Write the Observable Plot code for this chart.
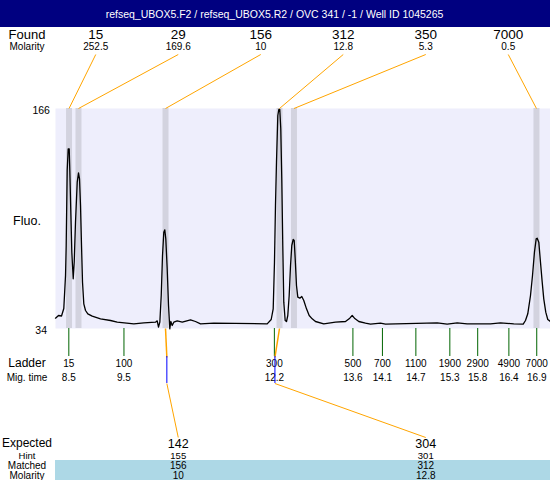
<!DOCTYPE html>
<html><head><meta charset="utf-8">
<script src="https://cdn.jsdelivr.net/npm/d3@7"></script>
<script src="https://cdn.jsdelivr.net/npm/@observablehq/plot@0.6"></script>
<style>body{margin:0;background:#fff}</style>
</head><body><div id="chart"></div>
<script>
// ---------- data ----------
const title = "refseq_UBOX5.F2 / refseq_UBOX5.R2 / OVC 341 / -1 / Well ID 1045265";
const fluoRange = [34, 166];
const foundSize = [15, 29, 156, 312, 350, 7000];
const foundMolarity = ["252.5", "169.6", "10", "12.8", "5.3", "0.5"];
const foundTime = [8.504, 8.674, 10.236, 12.282, 12.542, 16.895];
const ladderSize = [15, 100, 300, 500, 700, 1100, 1900, 2900, 4900, 7000];
const ladderTime = [8.50, 9.49, 12.19, 13.60, 14.13, 14.73, 15.34, 15.84, 16.40, 16.90];
const expectedSize = [142, 304];
const expectedHint = [155, 301];
const matchedSize = [156, 312];
const matchedMolarity = ["10", "12.8"];
const matchedFoundIndex = [2, 3];
const matchedTime = [10.26, 12.2];
const traceTime = [8.261, 8.315, 8.369, 8.410, 8.441, 8.453, 8.471, 8.489, 8.507, 8.518,
  8.536, 8.554, 8.579, 8.597, 8.620, 8.651, 8.674, 8.692, 8.710, 8.728,
  8.746, 8.769, 8.800, 8.841, 8.920, 9.069, 9.249, 9.369, 9.667, 9.846,
  10.056, 10.087, 10.110, 10.134, 10.159, 10.182, 10.205, 10.223, 10.241, 10.266,
  10.290, 10.313, 10.331, 10.356, 10.385, 10.446, 10.536, 10.685, 10.774, 10.864,
  11.103, 12.061, 12.133, 12.169, 12.192, 12.210, 12.228, 12.252, 12.270, 12.287,
  12.305, 12.323, 12.341, 12.359, 12.384, 12.408, 12.431, 12.456, 12.480, 12.503,
  12.528, 12.546, 12.564, 12.587, 12.611, 12.647, 12.682, 12.718, 12.767, 12.815,
  12.869, 12.928, 13.077, 13.287, 13.467, 13.544, 13.587, 13.628, 13.706, 13.826,
  13.915, 14.095, 14.185, 15.113, 15.292, 15.472, 15.651, 16.070, 16.249, 16.488,
  16.657, 16.698, 16.739, 16.788, 16.824, 16.859, 16.890, 16.908, 16.937, 16.967,
  16.998, 17.026, 17.062, 17.098, 17.147];
const traceFluo = [40.2, 41.8, 41.5, 46.0, 65.8, 83.8, 128.8, 141.8, 141.8, 128.8,
  103.8, 79.8, 63.8, 73.8, 97.8, 121.8, 127.4, 123.8, 107.8, 83.8,
  61.8, 48.8, 44.8, 42.8, 41.4, 39.8, 38.8, 37.8, 36.8, 37.4,
  37.8, 38.6, 34.8, 37.8, 53.8, 77.8, 91.8, 93.2, 87.8, 69.8,
  47.8, 33.8, 38.2, 35.8, 37.8, 38.6, 37.8, 39.2, 38.2, 36.8,
  37.2, 36.8, 39.4, 45.8, 73.8, 107.8, 133.8, 161.8, 165.4, 165.4,
  153.8, 123.8, 83.8, 49.8, 38.8, 38.2, 41.8, 53.8, 71.8, 83.8,
  87.4, 86.8, 75.8, 59.8, 52.8, 52.2, 53.2, 50.8, 45.8, 41.8,
  39.8, 38.2, 36.8, 37.8, 38.2, 40.2, 41.8, 40.2, 38.2, 37.2,
  36.6, 37.2, 36.6, 37.4, 36.6, 37.4, 36.8, 36.8, 37.4, 36.8,
  36.6, 38.8, 42.8, 53.8, 65.8, 79.8, 87.8, 88.2, 85.8, 73.8,
  61.8, 51.8, 43.8, 39.4, 38.2];
const timeDomain = [8.261, 17.147];

// ---------- layout ----------
const W = 550, H = 480, L = 55, R = 550, T = 108, B = 328;
const xs = Plot.scale({x: {domain: timeDomain, range: [L, R]}});
const ys = Plot.scale({y: {domain: fluoRange, range: [B, T]}});
const X = px => xs.invert(px), Y = py => ys.invert(py);
const slot = (i, n) => X(L + (i + 0.5) * (R - L) / n - 1);
const labelX = X(26.5);
const font = "'Liberation Sans', Arial, sans-serif";
const ORANGE = "#ffa500", GREEN = "#006400", BLUE = "#0000ff";

const trace = traceTime.map((t, i) => ({t, f: traceFluo[i]}));
const found = foundSize.map((s, i) => ({s, m: foundMolarity[i], t: foundTime[i], i}));
const ladder = ladderSize.map((s, i) => ({s, t: ladderTime[i]}));
const matched = expectedSize.map((e, i) => ({
  e, h: expectedHint[i], s: matchedSize[i], m: matchedMolarity[i],
  ft: foundTime[matchedFoundIndex[i]], mt: matchedTime[i], i
}));
const rowLabel = (txt, py, size) => Plot.text([txt], {x: () => labelX, y: () => Y(py), text: d => d, fontSize: size, fill: "black"});

const chart = Plot.plot({
  width: W, height: H,
  marginLeft: L, marginRight: W - R, marginTop: T, marginBottom: H - B,
  x: {domain: timeDomain, range: [L, R], axis: null},
  y: {domain: fluoRange, range: [B, T], axis: null},
  style: {fontFamily: font, background: "white", overflow: "visible"},
  marks: [
    // header
    Plot.rect([0], {x1: () => X(0), x2: () => X(W), y1: () => Y(0), y2: () => Y(27), fill: "#000080"}),
    Plot.text([title], {x: () => X(274), y: () => Y(13.7), text: d => d, fill: "white", fontSize: 10.5}),
    // panel
    Plot.frame({fill: "#eeeefc", stroke: "none"}),
    Plot.ruleX(found, {x: "t", stroke: "#d3d3df", strokeWidth: 6}),
    Plot.line(trace, {x: "t", y: "f", stroke: "black", strokeWidth: 1.3}),
    Plot.text(fluoRange, {x: () => X(40.7), y: d => d, dy: 2, text: d => String(d), fontSize: 10.5, fill: "black"}),
    rowLabel("Fluo.", 220.5, 12.5),
    // found rows
    rowLabel("Found", 34, 13),
    rowLabel("Molarity", 46.5, 10),
    Plot.text(found, {x: d => slot(d.i, found.length), y: () => Y(34), text: d => String(d.s), fontSize: 13.5, fill: "black"}),
    Plot.text(found, {x: d => slot(d.i, found.length), y: () => Y(46.5), text: "m", fontSize: 10, fill: "black"}),
    Plot.link(found, {x1: d => slot(d.i, found.length), y1: () => Y(54), x2: "t", y2: () => fluoRange[1], stroke: ORANGE, strokeWidth: 1}),
    // ladder
    Plot.ruleX(ladder, {x: "t", y1: () => fluoRange[0], y2: () => Y(356), stroke: GREEN, strokeWidth: 1}),
    rowLabel("Ladder", 363, 12),
    rowLabel("Mig. time", 377, 10),
    Plot.text(ladder, {x: "t", y: () => Y(363), text: d => String(d.s), fontSize: 10, fill: "black"}),
    Plot.text(ladder, {x: "t", y: () => Y(377), text: d => d.t.toFixed(1), fontSize: 10, fill: "black"}),
    // matched / expected
    Plot.rect([0], {x1: () => X(L), x2: () => X(R), y1: () => Y(460), y2: () => Y(480), fill: "#add8e6"}),
    Plot.link(matched, {x1: "ft", y1: () => fluoRange[0], x2: "mt", y2: () => Y(357), stroke: ORANGE, strokeWidth: 1.5}),
    Plot.ruleX(matched, {x: "mt", y1: () => Y(356), y2: () => Y(383), stroke: BLUE, strokeWidth: 1}),
    Plot.link(matched, {x1: "mt", y1: () => Y(383), x2: d => slot(d.i, matched.length), y2: () => Y(437), stroke: ORANGE, strokeWidth: 1}),
    rowLabel("Expected", 443, 12),
    rowLabel("Hint", 455, 9.5),
    rowLabel("Matched", 465.5, 10),
    rowLabel("Molarity", 475, 10),
    Plot.text(matched, {x: d => slot(d.i, matched.length), y: () => Y(443), text: d => String(d.e), fontSize: 12.5, fill: "black"}),
    Plot.text(matched, {x: d => slot(d.i, matched.length), y: () => Y(455), text: d => String(d.h), fontSize: 9.5, fill: "black"}),
    Plot.text(matched, {x: d => slot(d.i, matched.length), y: () => Y(465.5), text: d => String(d.s), fontSize: 10, fill: "black"}),
    Plot.text(matched, {x: d => slot(d.i, matched.length), y: () => Y(475), text: "m", fontSize: 10, fill: "black"})
  ]
});
document.getElementById("chart").appendChild(chart);
</script>
</body></html>
